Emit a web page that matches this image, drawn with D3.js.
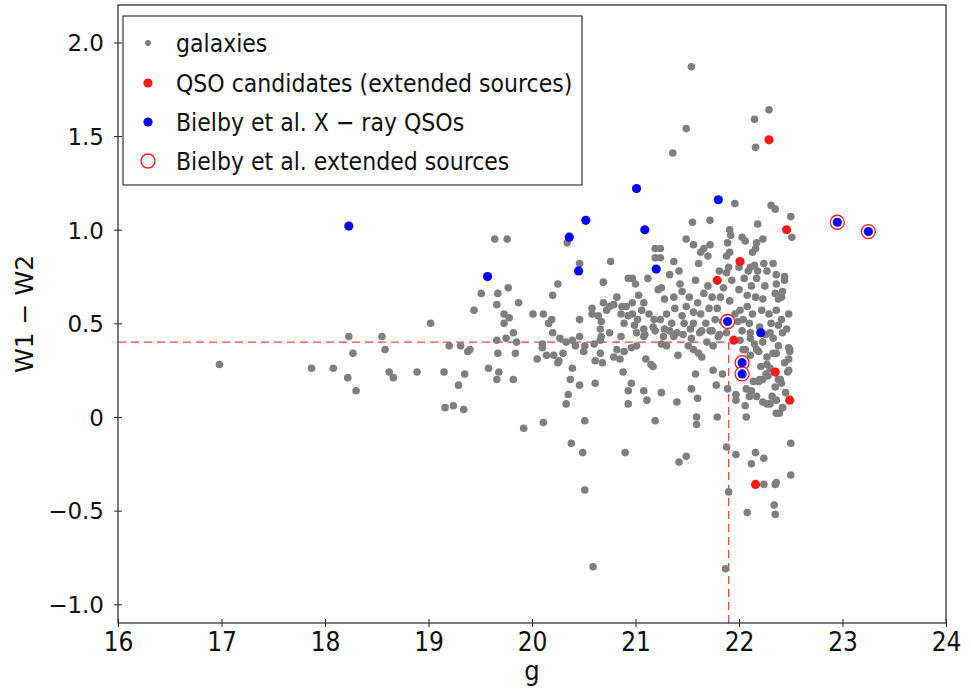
<!DOCTYPE html>
<html>
<head>
<meta charset="utf-8">
<script src="https://cdn.jsdelivr.net/npm/d3@7"></script>
<style>
  body { margin: 0; background: #fff; }
  .tick-x text, .legend text, .xlabel { font-family: "Liberation Sans Narrow", "DejaVu Sans Condensed", "Lato", sans-serif; }
  .tick-y text, .ylabel { font-family: "DejaVu Sans", sans-serif; }
</style>
</head>
<body>
<svg id="chart" width="971" height="691"></svg>
<script>
// g magnitude vs W1-W2 colour
const galaxies = [
  [16.98,0.28],[17.87,0.26],[18.08,0.26],[18.23,0.43],[18.27,0.34],[18.22,0.21],[18.30,0.14],[18.55,0.43],
  [18.58,0.36],[18.62,0.24],[18.66,0.21],[18.89,0.24],[19.02,0.50],[19.15,0.24],[19.20,0.38],[19.31,0.38],
  [19.38,0.35],[19.35,0.23],[19.29,0.17],[19.16,0.05],[19.24,0.06],[19.34,0.04],[19.40,0.36],
  [19.44,0.57],[19.51,0.66],[19.67,0.66],[19.77,0.69],[19.66,0.60],[19.87,0.61],[19.73,0.55],[19.78,0.53],
  [19.73,0.50],[19.82,0.45],[19.66,0.41],[19.75,0.42],[19.85,0.40],[19.67,0.34],[19.84,0.34],[19.58,0.26],
  [19.68,0.24],[19.66,0.20],[19.82,0.20],[19.92,-0.06],[20.11,-0.03],[19.64,0.95],[19.76,0.95],
  [20.01,0.55],[20.11,0.55],[20.19,0.52],[20.16,0.50],[20.20,0.45],[20.20,0.65],[20.25,0.71],[20.46,0.82],
  [20.34,0.93],[20.27,0.42],[20.33,0.40],[20.39,0.41],[20.46,0.43],[20.46,0.52],[20.10,0.37],[20.10,0.39],
  [20.05,0.31],[20.14,0.33],[20.21,0.33],[20.25,0.29],[20.26,0.30],[20.30,0.34],[20.42,0.38],[20.50,0.35],
  [20.51,0.38],[20.39,0.26],[20.37,0.20],[20.46,0.17],[20.61,0.30],[20.61,0.18],[20.35,0.12],[20.33,0.07],
  [20.51,-0.02],[20.38,-0.14],[20.49,-0.19],[20.51,-0.39],[20.59,-0.80],[20.58,0.58],[20.58,0.55],
  [20.76,0.83],[20.69,0.72],[20.93,0.74],[20.64,0.54],[20.69,0.61],[20.72,0.57],[20.75,0.59],[20.79,0.60],
  [20.82,0.64],[20.87,0.59],[20.91,0.59],[20.86,0.55],[20.93,0.54],[20.67,0.51],[20.89,0.50],[20.66,0.47],
  [20.67,0.43],[20.75,0.45],[20.86,0.43],[20.60,0.39],[20.66,0.41],[20.66,0.34],[20.68,0.29],[20.82,0.36],
  [20.89,0.35],[20.79,0.32],[20.85,0.31],[20.88,0.24],[20.93,0.14],[20.93,0.07],[20.90,-0.19],
  [21.96,1.14],[22.31,1.13],[22.35,1.11],[21.55,1.04],[21.72,1.05],[22.18,1.03],[21.91,1.00],[21.92,0.97],
  [21.49,0.95],[21.56,0.92],[21.72,0.92],[22.03,0.96],[22.06,0.94],[21.89,0.93],[22.23,0.95],[22.17,0.93],
  [21.66,0.90],[21.63,0.88],[21.91,0.88],[21.88,0.86],[22.16,0.90],[22.13,0.88],[21.19,0.90],[21.24,0.90],
  [21.19,0.85],[21.24,0.85],[21.37,0.83],[21.61,0.82],[21.42,0.78],[21.70,0.86],[21.90,0.80],[22.00,0.80],
  [21.88,0.77],[21.93,0.73],[21.81,0.78],[22.11,0.80],[22.15,0.81],[22.24,0.82],[22.33,0.82],[22.09,0.78],
  [22.18,0.78],[22.27,0.78],[22.05,0.74],[22.17,0.74],[22.36,0.76],[22.25,0.70],[22.36,0.71],[20.97,0.74],
  [21.12,0.74],[21.00,0.71],[21.25,0.69],[21.22,0.68],[21.43,0.71],[21.45,0.67],[21.03,0.65],[21.28,0.63],
  [21.37,0.64],[21.52,0.64],[21.60,0.61],[21.74,0.64],[21.82,0.64],[21.91,0.62],[22.08,0.65],[22.16,0.64],
  [22.23,0.63],[22.35,0.66],[22.38,0.63],[20.97,0.61],[21.08,0.61],[20.97,0.55],[21.06,0.57],[21.18,0.52],
  [21.30,0.55],[21.38,0.58],[21.49,0.59],[21.45,0.54],[21.35,0.50],[21.56,0.56],[21.63,0.55],[21.71,0.58],
  [21.79,0.58],[21.68,0.50],[21.56,0.50],[21.77,0.52],[22.01,0.57],[22.08,0.59],[22.13,0.55],[21.99,0.51],
  [22.10,0.50],[22.22,0.57],[22.29,0.55],[22.36,0.57],[22.31,0.50],[22.38,0.49],[20.99,0.49],[21.08,0.47],
  [21.17,0.48],[21.28,0.47],[21.40,0.45],[21.53,0.47],[21.64,0.46],[21.74,0.46],[21.81,0.44],[22.03,0.46],
  [22.11,0.45],[22.30,0.45],
  [21.54,1.87],[21.49,1.54],[22.15,1.59],[22.29,1.64],[22.16,1.44],[21.36,1.41],[22.50,1.07],[22.51,0.96],
  [21.66,0.66],
  [22.44,0.75],[22.44,0.73],[22.42,0.67],[22.41,0.64],[22.48,0.55],[22.41,0.52],[22.46,0.47],[22.42,0.45],
  [22.48,0.37],[22.49,0.35],[22.48,0.31],[22.48,0.25],[22.40,0.20],[22.42,0.05],[22.39,0.02],[22.50,-0.14],
  [22.50,-0.31],
  [21.08,0.43],[20.96,0.37],[21.10,0.31],[21.15,0.28],[21.17,0.27],[21.01,0.38],[21.41,0.33],[21.56,0.36],
  [21.61,0.34],[21.64,0.32],[21.30,0.38],[21.25,0.39],[21.75,0.38],[21.58,0.23],[21.75,0.25],[21.84,0.23],
  [21.78,0.17],[21.54,0.15],[20.96,0.18],[21.08,0.14],[21.25,0.13],[21.11,0.09],[21.40,0.08],[21.60,0.10],
  [21.89,0.15],[21.97,0.12],[21.97,0.09],[21.19,-0.02],[21.59,0.00],[21.59,-0.04],[21.79,0.00],[22.07,0.00],
  [21.88,-0.16],[21.97,-0.20],[22.16,-0.19],[22.24,-0.22],[21.49,-0.21],[21.42,-0.24],[22.12,-0.25],
  [22.24,-0.36],[22.35,-0.36],[22.36,-0.35],[21.90,-0.40],[22.34,-0.47],[22.35,-0.52],[22.08,-0.51],[21.87,-0.81],
  [21.01,0.45],[21.09,0.44],[21.19,0.46],[21.27,0.43],[21.37,0.43],[21.46,0.44],[21.54,0.42],[21.62,0.45],
  [21.72,0.46],[21.80,0.43],[21.88,0.45],[22.01,0.41],[22.11,0.42],[22.15,0.39],[22.23,0.40],[22.33,0.42],
  [22.38,0.38],[22.06,0.36],[22.11,0.33],[22.19,0.35],[22.27,0.32],[22.33,0.34],[22.27,0.28],[22.28,0.22],
  [22.23,0.20],[22.19,0.19],[22.14,0.19],[22.07,0.15],[22.12,0.14],[22.17,0.11],[22.23,0.08],[22.30,0.07],
  [22.36,0.09],[22.36,0.02],[22.04,0.36],[22.17,0.36],[22.49,0.36],[22.36,0.34],[22.47,0.24],[22.26,0.23],
  [22.20,0.20],[22.38,0.20],[22.41,0.18],[22.35,0.16],[22.10,0.11],[22.27,0.07],[22.32,0.11],[22.42,0.05],
  [21.02,0.52],[21.13,0.55],[21.24,0.52],[21.33,0.46],[21.47,0.50],[21.51,0.38],[21.69,0.40],[21.84,0.51],
  [21.96,0.55],[22.04,0.52],[22.20,0.48],[22.26,0.44],[21.70,0.70],[21.85,0.69],[22.00,0.68],[22.12,0.70],
  [21.58,0.73],[21.33,0.76],[22.21,0.27],[22.30,0.26],[22.44,0.29],[22.45,0.13],[22.06,0.06]
];

const qsoCandidates = [
  [22.29,1.48],[22.46,1.00],[22.01,0.83],[21.79,0.73],[21.95,0.41],[22.35,0.24],[22.49,0.09],[22.16,-0.36]
];

const xrayQSOs = [
  [18.23,1.02],[19.57,0.75],[20.36,0.96],[20.52,1.05],[20.45,0.78],[21.01,1.22],[21.09,1.00],[21.20,0.79],
  [21.80,1.16],[22.21,0.45],[22.95,1.04],[23.25,0.99],[21.89,0.51],[22.03,0.29],[22.03,0.23]
];

const extendedSources = [
  [22.95,1.04],[23.25,0.99],[21.89,0.51],[22.03,0.29],[22.03,0.23]
];

const xTicks = [16, 17, 18, 19, 20, 21, 22, 23, 24];
const yTicks = [-1.0, -0.5, 0, 0.5, 1.0, 1.5, 2.0];
const yTickLabels = ["\u22121.0", "\u22120.5", "0", "0.5", "1.0", "1.5", "2.0"];
const gCut = 21.9;
const colourCut = 0.4;
const legendLabels = [
  "galaxies",
  "QSO candidates (extended sources)",
  "Bielby et al. X \u2212 ray QSOs",
  "Bielby et al. extended sources"
];

const svg = d3.select("#chart");
const plotL = 118, plotR = 946, plotT = 5, plotB = 623;
const x = d3.scaleLinear().domain([16, 24]).range([plotL, plotR]);
const y = d3.scaleLinear().domain([-1.1, 2.2]).range([plotB, plotT]);

const GRAY = "#7f7f7f", RED = "#ff1a1a", BLUE = "#0000ff", CUT = "#ee4a3c";

// cut lines
svg.append("line")
  .attr("x1", plotL).attr("x2", x(gCut))
  .attr("y1", y(colourCut)).attr("y2", y(colourCut))
  .attr("stroke", CUT).attr("stroke-width", 1.4).attr("stroke-dasharray", "8,5");
svg.append("line")
  .attr("x1", x(gCut)).attr("x2", x(gCut))
  .attr("y1", y(colourCut)).attr("y2", plotB)
  .attr("stroke", CUT).attr("stroke-width", 1.4).attr("stroke-dasharray", "8,5");

// points
svg.append("g").selectAll("circle").data(galaxies).join("circle")
  .attr("cx", d => x(d[0])).attr("cy", d => y(d[1])).attr("r", 3.8).attr("fill", GRAY);
svg.append("g").selectAll("circle").data(qsoCandidates).join("circle")
  .attr("cx", d => x(d[0])).attr("cy", d => y(d[1])).attr("r", 4.6).attr("fill", RED);
svg.append("g").selectAll("circle").data(extendedSources).join("circle")
  .attr("cx", d => x(d[0])).attr("cy", d => y(d[1])).attr("r", 7)
  .attr("fill", "#fff").attr("stroke", RED).attr("stroke-width", 1.3);
svg.append("g").selectAll("circle").data(xrayQSOs).join("circle")
  .attr("cx", d => x(d[0])).attr("cy", d => y(d[1])).attr("r", 4.6).attr("fill", BLUE);

// axes
const xMinor = d3.range(160, 241).map(v => v / 10);
const yMinor = d3.range(-11, 23).map(v => v / 10);

const gx = svg.append("g").attr("class", "tick-x").attr("transform", `translate(0,${plotB})`);
gx.call(d3.axisBottom(x).tickValues(xMinor).tickSize(-3).tickFormat(""));
gx.call(d3.axisBottom(x).tickValues(xTicks).tickSize(4).tickFormat(d3.format("d")));
gx.selectAll(".domain").remove();
gx.selectAll("line").attr("stroke", "#222").attr("stroke-width", 1);
gx.selectAll(".tick").filter(d => xTicks.includes(d)).select("line").attr("y1", -4).attr("y2", 4);
gx.selectAll("text").attr("y", 28).attr("dy", null).attr("font-size", 26).attr("fill", "#111");

const gy = svg.append("g").attr("class", "tick-y").attr("transform", `translate(${plotL},0)`);
gy.call(d3.axisLeft(y).tickValues(yMinor).tickSize(-3).tickFormat(""));
gy.call(d3.axisLeft(y).tickValues(yTicks).tickSize(4).tickFormat((d, i) => yTickLabels[i]));
gy.selectAll(".domain").remove();
gy.selectAll("line").attr("stroke", "#222").attr("stroke-width", 1);
gy.selectAll(".tick").filter(d => yTicks.includes(d)).select("line").attr("x1", -4).attr("x2", 4);
gy.selectAll("text").attr("x", -14).attr("dy", "0.36em").attr("font-size", 23).attr("fill", "#111");

// frame
svg.append("rect").attr("x", plotL).attr("y", plotT).attr("width", plotR - plotL).attr("height", plotB - plotT)
  .attr("fill", "none").attr("stroke", "#333").attr("stroke-width", 1.3);

// axis titles
svg.append("text").attr("class", "xlabel").attr("x", (plotL + plotR) / 2).attr("y", 680)
  .attr("text-anchor", "middle").attr("font-size", 27).attr("fill", "#111").text("g");
svg.append("text").attr("class", "ylabel")
  .attr("transform", `translate(33,${(plotT + plotB) / 2}) rotate(-90)`)
  .attr("text-anchor", "middle").attr("font-size", 25).attr("fill", "#111").text("W1 \u2212 W2");

// legend
const lg = svg.append("g").attr("class", "legend");
lg.append("rect").attr("x", 123).attr("y", 16).attr("width", 459).attr("height", 169)
  .attr("fill", "#fff").attr("stroke", "#333").attr("stroke-width", 1.2);
const rowY = [43, 83, 122, 161];
lg.append("circle").attr("cx", 148).attr("cy", rowY[0]).attr("r", 3).attr("fill", GRAY);
lg.append("circle").attr("cx", 148).attr("cy", rowY[1]).attr("r", 4.6).attr("fill", RED);
lg.append("circle").attr("cx", 148).attr("cy", rowY[2]).attr("r", 4.6).attr("fill", BLUE);
lg.append("circle").attr("cx", 148).attr("cy", rowY[3]).attr("r", 7).attr("fill", "none")
  .attr("stroke", RED).attr("stroke-width", 1.3);
lg.selectAll("text").data(legendLabels).join("text")
  .attr("x", 176).attr("y", (d, i) => rowY[i]).attr("dy", "0.36em")
  .attr("font-size", 24.5).attr("fill", "#111").text(d => d);
</script>
</body>
</html>
